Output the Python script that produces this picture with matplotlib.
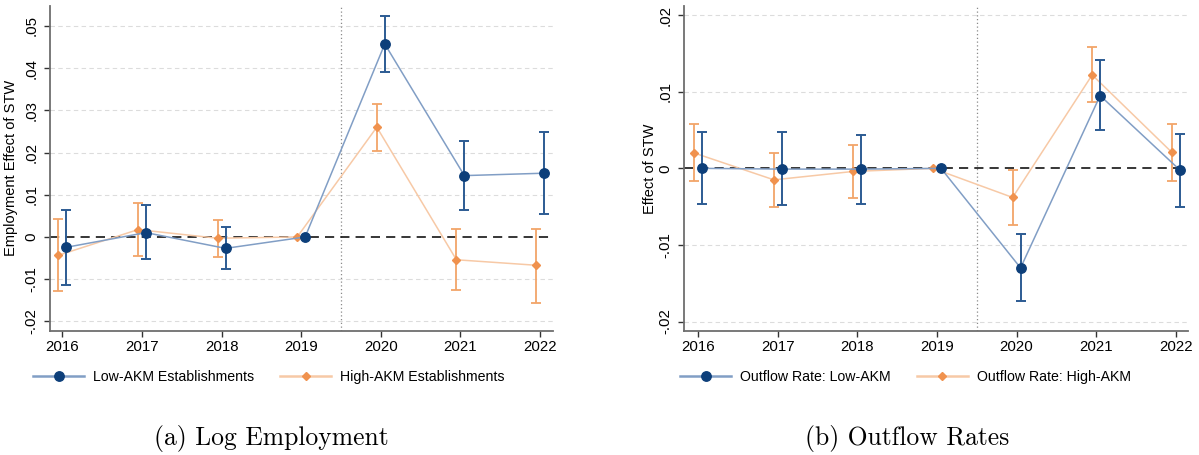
import numpy as np
import matplotlib
matplotlib.use("Agg")
import matplotlib.pyplot as plt
from matplotlib.lines import Line2D

years = [2016, 2017, 2018, 2019, 2020, 2021, 2022]

# Panel (a): Log Employment
emp_low = [-0.00245, 0.00103, -0.0027, 0.0, 0.0457, 0.01453, 0.0151]
emp_low_hi = [0.0064, 0.00766, 0.0024, np.nan, 0.0524, 0.02275, 0.0249]
emp_low_lo = [-0.0114, -0.0053, -0.0077, np.nan, 0.0391, 0.0064, 0.0054]
emp_high = [-0.00434, 0.00174, -0.0003, 0.0, 0.026, -0.0054, -0.0067]
emp_high_hi = [0.0042, 0.0081, 0.0041, np.nan, 0.0316, 0.0020, 0.0020]
emp_high_lo = [-0.0128, -0.0046, -0.0047, np.nan, 0.0203, -0.0126, -0.0156]
emp_yticks = [-0.02, -0.01, 0, 0.01, 0.02, 0.03, 0.04, 0.05]
emp_yticklabels = ["-.02", "-.01", "0", ".01", ".02", ".03", ".04", ".05"]
emp_labels = ["Low-AKM Establishments", "High-AKM Establishments"]

# Panel (b): Outflow Rates
out_low = [0.0, -0.0001, -0.0001, 0.0, -0.0130, 0.0095, -0.0002]
out_low_hi = [0.0047, 0.0047, 0.0044, np.nan, -0.0086, 0.0141, 0.0045]
out_low_lo = [-0.0046, -0.0048, -0.0046, np.nan, -0.0173, 0.0050, -0.0050]
out_high = [0.0020, -0.0015, -0.0004, 0.0, -0.0038, 0.0122, 0.0021]
out_high_hi = [0.0058, 0.0020, 0.0031, np.nan, -0.0002, 0.0158, 0.0058]
out_high_lo = [-0.0017, -0.0051, -0.0039, np.nan, -0.0074, 0.0087, -0.0016]
out_yticks = [-0.02, -0.01, 0, 0.01, 0.02]
out_yticklabels = ["-.02", "-.01", "0", ".01", ".02"]
out_labels = ["Outflow Rate: Low-AKM", "Outflow Rate: High-AKM"]

captions = ["(a) Log Employment", "(b) Outflow Rates"]

NAVY = "#0d3f7a"
NAVY_BAR = "#2c5b93"
NAVY_LINE = "#819ec5"
ORANGE = "#f0924e"
ORANGE_BAR = "#f2a569"
ORANGE_LINE = "#f7c9a6"

plt.rcParams["font.family"] = ["Liberation Sans", "DejaVu Sans"]

fig = plt.figure(figsize=(11.99, 4.55), dpi=100)

W, H = 1199.0, 455.0
ax1 = fig.add_axes([50 / W, 1 - 330.7 / H, 503.3 / W, 324.7 / H])
ax2 = fig.add_axes([684.3 / W, 1 - 330.7 / H, 504 / W, 324.7 / H])


def panel(ax, low, low_hi, low_lo, high, high_hi, high_lo, yticks, ylabs,
          ylim, xlim, ylabel, labelx):
    x = np.array(years, dtype=float)
    off = 0.05
    low = np.array(low); high = np.array(high)
    lh = np.array(low_hi); ll = np.array(low_lo)
    hh = np.array(high_hi); hl = np.array(high_lo)
    ax.set_ylim(*ylim)
    ax.set_xlim(*xlim)
    for yt in yticks:
        if yt != 0:
            ax.axhline(yt, color="#dcdcdc", lw=0.8, ls=(0, (4, 3)), zorder=0)
    ax.axvline(2019.5, color="#8a8a8a", lw=0.9, ls=(0, (1, 2)), zorder=1)
    ax.axhline(0, color="black", lw=1.1, ls=(0, (6, 4)), zorder=2)
    # high series
    m = ~np.isnan(hh)
    ax.plot(x - off, high, color=ORANGE_LINE, lw=1.1, zorder=3)
    ax.errorbar(x[m] - off, high[m], yerr=[high[m] - hl[m], hh[m] - high[m]],
                fmt="none", ecolor=ORANGE_BAR, elinewidth=1.3, capsize=3.5,
                capthick=1.3, zorder=4)
    ax.plot(x - off, high, ls="none", marker="D", ms=4.2, color=ORANGE,
            mec=ORANGE, zorder=5)
    # low series
    m = ~np.isnan(lh)
    ax.plot(x + off, low, color=NAVY_LINE, lw=1.1, zorder=6)
    ax.errorbar(x[m] + off, low[m], yerr=[low[m] - ll[m], lh[m] - low[m]],
                fmt="none", ecolor=NAVY_BAR, elinewidth=1.4, capsize=3.5,
                capthick=1.4, zorder=7)
    ax.plot(x + off, low, ls="none", marker="o", ms=6.8, color=NAVY,
            mec=NAVY, zorder=8)

    ax.set_yticks(yticks)
    ax.set_yticklabels(ylabs, rotation=90, va="center")
    ax.set_xticks(years)
    ax.set_xticklabels([str(y) for y in years])
    for s in ["top", "right"]:
        ax.spines[s].set_visible(False)
    for s in ["left", "bottom"]:
        ax.spines[s].set_color("#6e6e6e")
        ax.spines[s].set_linewidth(1.3)
    ax.tick_params(axis="both", direction="out", length=4.5, width=1.0,
                   color="#333333", labelsize=10.8, labelcolor="black")
    ax.tick_params(axis="y", pad=4)
    ax.tick_params(axis="x", pad=2.5)
    ax.set_ylabel(ylabel, fontsize=10.5)
    ax.yaxis.set_label_coords(labelx, 0.5)


panel(ax1, emp_low, emp_low_hi, emp_low_lo, emp_high, emp_high_hi, emp_high_lo,
      emp_yticks, emp_yticklabels, (-0.0222, 0.0547), (2015.845, 2022.167),
      "Employment Effect of STW", -0.0636)
panel(ax2, out_low, out_low_hi, out_low_lo, out_high, out_high_hi, out_high_lo,
      out_yticks, out_yticklabels, (-0.0212, 0.0212), (2015.824, 2022.158),
      "Effect of STW", -0.0548)


def legend(labels, cx):
    h = [Line2D([], [], color=NAVY_LINE, lw=1.8, marker="o", ms=6.8,
                mfc=NAVY, mec=NAVY),
         Line2D([], [], color=ORANGE_LINE, lw=1.8, marker="D", ms=4.2,
                mfc=ORANGE, mec=ORANGE)]
    fig.legend(h, labels, loc="center", bbox_to_anchor=(cx / W, 1 - 377 / H),
               ncol=2, frameon=False, fontsize=10.2, handlelength=3.6,
               handletextpad=0.65, columnspacing=1.8, borderpad=0)


legend(emp_labels, 269)
legend(out_labels, 905.5)

fig.text(271.5 / W, 1 - 438 / H, captions[0], ha="center", va="center",
         family="cmr10", fontsize=18.4)
fig.text(907.5 / W, 1 - 438 / H, captions[1], ha="center", va="center",
         family="cmr10", fontsize=18.4)

fig.savefig("out.png", dpi=100)
